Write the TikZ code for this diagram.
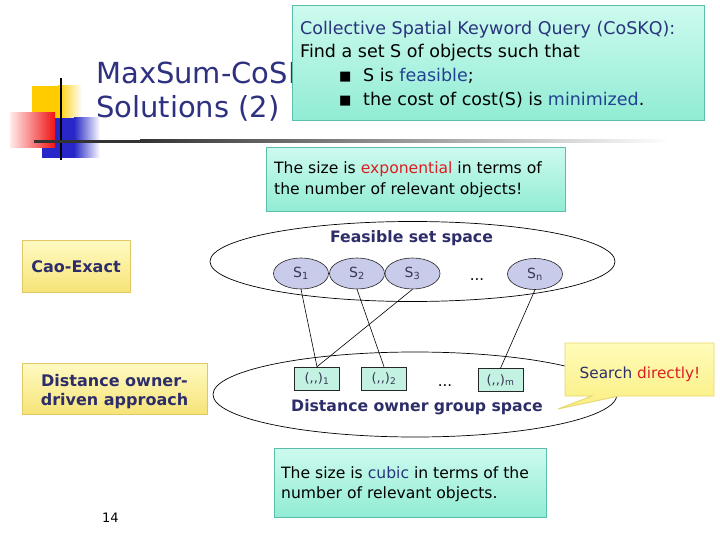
\documentclass[tikz,border=0pt]{standalone}
\usepackage{fontspec}
\setmainfont{DejaVu Sans}
\usetikzlibrary{shapes.geometric}
\definecolor{titleblue}{RGB}{46,48,128}
\definecolor{navytxt}{RGB}{40,52,125}
\definecolor{bluetxt}{RGB}{35,65,145}
\definecolor{boldnavy}{RGB}{45,45,105}
\definecolor{redtxt}{RGB}{220,30,35}
\definecolor{tealtop}{RGB}{205,250,238}
\definecolor{tealbot}{RGB}{145,236,212}
\definecolor{tealborder}{RGB}{90,190,170}
\definecolor{ytop}{RGB}{255,250,195}
\definecolor{ybot}{RGB}{246,228,120}
\definecolor{yborder}{RGB}{225,200,100}
\definecolor{ctop}{RGB}{255,252,185}
\definecolor{cbot}{RGB}{250,238,130}
\definecolor{cborder}{RGB}{230,215,110}
\definecolor{lav}{RGB}{201,203,234}
\definecolor{dfill}{RGB}{196,242,226}
\definecolor{sgray}{RGB}{55,55,85}
\definecolor{decoyellow}{RGB}{255,204,0}
\definecolor{decored}{RGB}{240,20,20}
\definecolor{decoblue}{RGB}{40,40,200}
\tikzset{
  tealbox/.style={rectangle, draw=tealborder, line width=0.9pt, top color=tealtop, bottom color=tealbot, inner sep=0pt, anchor=north west},
  ybox/.style={rectangle, draw=yborder, line width=0.9pt, top color=ytop, bottom color=ybot, inner sep=0pt},
  sset/.style={ellipse, draw=black!85, line width=0.6pt, fill=lav, minimum width=55pt, minimum height=31pt, inner sep=0pt, text=sgray, font={\fontsize{14}{16}\selectfont}},
  dbox/.style={rectangle, draw=black!85, line width=0.6pt, fill=dfill, minimum width=45pt, minimum height=23pt, inner sep=0pt, text=sgray, font={\fontsize{13}{15}\selectfont}},
  space/.style={ellipse, draw=black, line width=0.7pt, inner sep=0pt},
  topfont/.style={font={\fontsize{17.5}{21}\selectfont}, inner sep=0pt, anchor=base west},
  midfont/.style={font={\fontsize{15.6}{19}\selectfont}, inner sep=0pt, anchor=base west},
  boldlabel/.style={font={\bfseries\fontsize{15.7}{19.5}\selectfont}, text=boldnavy, inner sep=0pt},
  link/.style={draw=black, line width=0.6pt},
  dots/.style={font={\fontsize{15}{17}\selectfont}, inner sep=0pt, anchor=base},
}
\begin{document}
\begin{tikzpicture}[x=1pt,y=-1pt]
\useasboundingbox (0,0) rectangle (720,540);
\fill[white] (0,0) rectangle (720,540);
% decoration
\fill[decoyellow] (32,86) rectangle (58,136);
\shade[left color=decoyellow, right color=white] (58,86) rectangle (82,136);
\fill[decoblue] (42,118) rectangle (74,158);
\shade[left color=decoblue, right color=white] (74,118) rectangle (100,158);
\shade[left color=red!8, right color=decored] (10,113) rectangle (55,148);
\draw[black, line width=2.5pt] (61,78) -- (61,160);
\fill[black!80] (34,139.6) rectangle (140,142.6);
\shade[left color=black!80, right color=white] (140,139.6) rectangle (670,142.6);
% title
\node[font={\fontsize{29}{34}\selectfont}, text=titleblue, inner sep=0pt, anchor=base west] (title1) at (96,84) {MaxSum-CoSK};
\node[font={\fontsize{29}{34}\selectfont}, text=titleblue, inner sep=0pt, anchor=base west] (title2) at (96,118) {Solutions (2)};
% top box
\node[tealbox, minimum width=412pt, minimum height=115pt] (topbox) at (292,5) {};
\node[topfont, text=navytxt] (q1) at (300,35) {Collective Spatial Keyword Query (CoSKQ):};
\node[topfont] (q2) at (300,58) {Find a set S of objects such that};
\node[font={\fontsize{13}{15}\selectfont}, inner sep=0pt, anchor=base west] (b1) at (339,81) {■};
\node[topfont] (q3) at (363,82) {S is \textcolor{bluetxt}{feasible};};
\node[font={\fontsize{13}{15}\selectfont}, inner sep=0pt, anchor=base west] (b2) at (339,105) {■};
\node[topfont] (q4) at (363,106) {the cost of cost(S) is \textcolor{bluetxt}{minimized}.};
% exponential box
\node[tealbox, minimum width=299pt, minimum height=64pt] (expbox) at (266,147) {};
\node[midfont] (e1) at (274,174) {The size is \textcolor{redtxt}{exponential} in terms of};
\node[midfont] (e2) at (274,194.5) {the number of relevant objects!};
% spaces
\node[space, minimum width=405pt, minimum height=80pt] (fspace) at (412.5,261.5) {};
\node[space, minimum width=404pt, minimum height=85pt] (dspace) at (415,394.5) {};
\node[boldlabel, anchor=base] (flabel) at (411.5,243) {Feasible set space};
\node[boldlabel, anchor=base] (dlabel) at (417,411.5) {Distance owner group space};
% sets
\node[sset] (s1) at (301,273.5) {S\textsubscript{1}};
\node[sset] (s2) at (357,273.5) {S\textsubscript{2}};
\node[sset] (s3) at (412.5,273.5) {S\textsubscript{3}};
\node[dots] (sdots) at (477,280) {...};
\node[sset] (sn) at (535,274) {S\textsubscript{n}};
% groups
\node[dbox] (d1) at (317,378.5) {(,{},)\textsubscript{1}};
\node[dbox] (d2) at (384,378.5) {(,{},)\textsubscript{2}};
\node[dots] (ddots) at (445,386) {...};
\node[dbox] (dm) at (500.5,380) {(,{},)\textsubscript{m}};
% links
\draw[link] (s1.south) -- (d1.north);
\draw[link] (s3.south) -- (d1.north);
\draw[link] (s2.south) -- (d2.north);
\draw[link] (sn.south) -- (dm.north);
% left boxes
\node[ybox, minimum width=108pt, minimum height=52pt] (cao) at (76,266) {};
\node[boldlabel, font={\bfseries\fontsize{16}{19.5}\selectfont}, anchor=base] (caotxt) at (76,272) {Cao-Exact};
\node[ybox, minimum width=185pt, minimum height=51pt] (dist) at (114.5,388.5) {};
\node[boldlabel, font={\bfseries\fontsize{16}{19.5}\selectfont}, anchor=base] (dist1) at (114.5,386) {Distance owner-};
\node[boldlabel, font={\bfseries\fontsize{16}{19.5}\selectfont}, anchor=base] (dist2) at (114.5,405.5) {driven approach};
% callout
\path[draw=cborder, line width=0.9pt, top color=ctop, bottom color=cbot]
  (565,343) -- (714,343) -- (714,396) -- (619,396) -- (558,409) -- (592,396) -- (565,396) -- cycle;
\node[font={\fontsize{15.3}{18}\selectfont}, text=boldnavy, inner sep=0pt, anchor=base] (search) at (640,378) {Search \textcolor{redtxt}{directly!}};
% cubic box
\node[tealbox, minimum width=272pt, minimum height=69pt] (cubbox) at (274,448) {};
\node[midfont] (c1) at (281,478) {The size is \textcolor{navytxt}{cubic} in terms of the};
\node[midfont] (c2) at (281,498) {number of relevant objects.};
% page number
\node[font={\fontsize{13}{15}\selectfont}, inner sep=0pt, anchor=base] (page) at (110.5,522) {14};
\end{tikzpicture}
\end{document}
